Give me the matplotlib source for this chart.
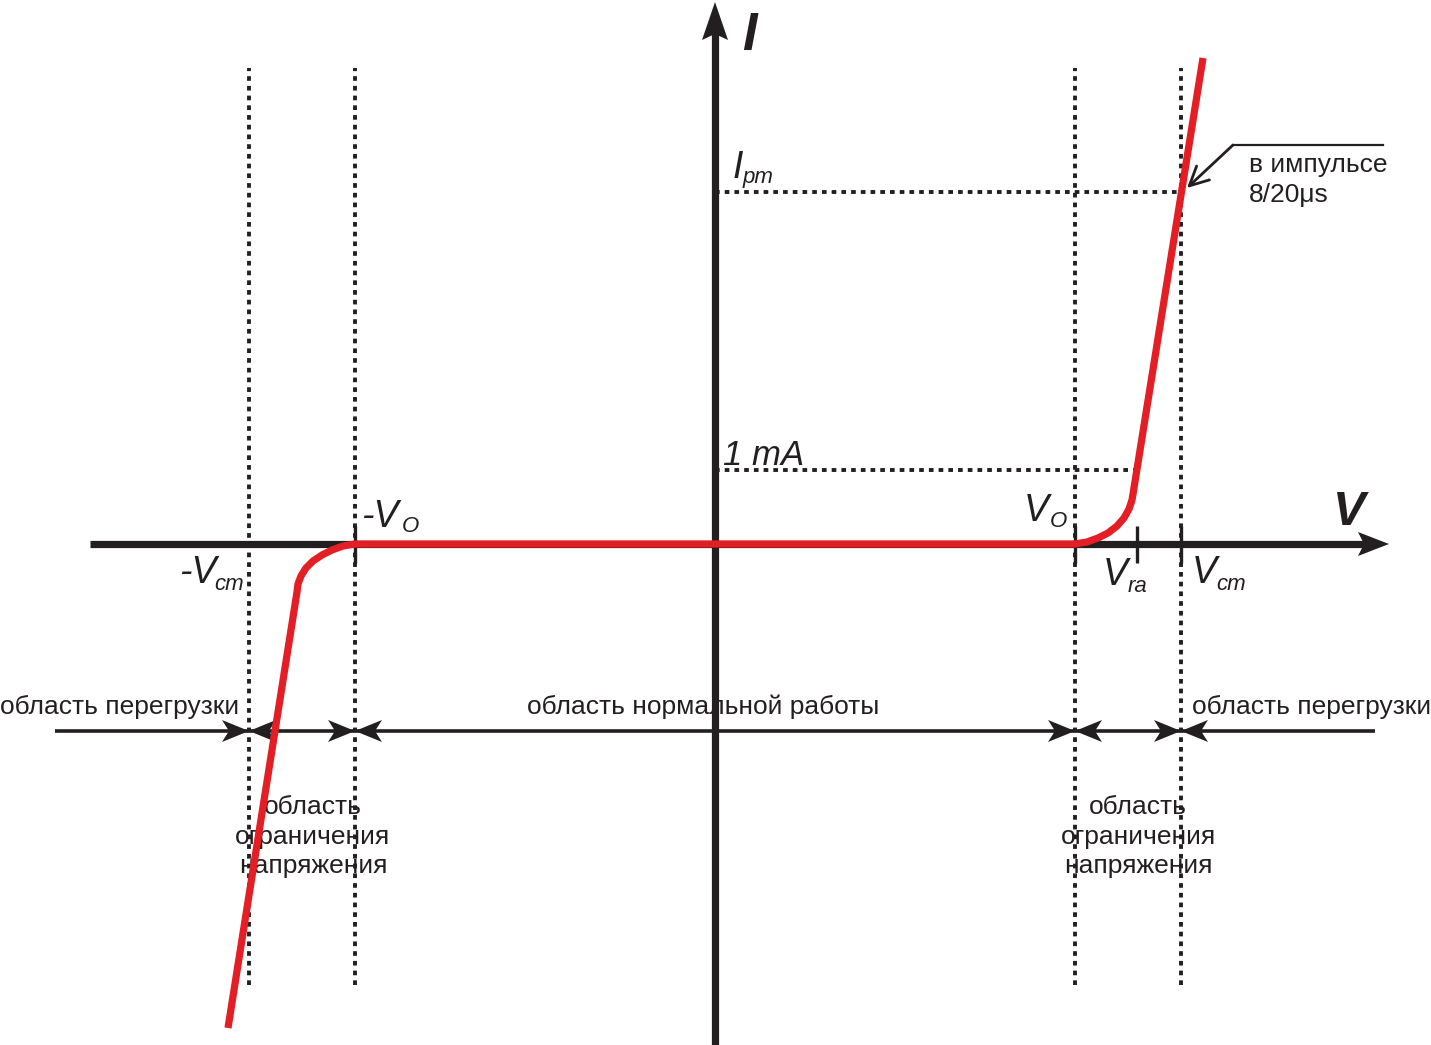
import numpy as np
import matplotlib
matplotlib.use('Agg')
import matplotlib.pyplot as plt
from matplotlib.patches import Polygon

plt.rcParams['font.family'] = ['Liberation Sans', 'DejaVu Sans']

# ---- schematic values (V, I in drawing units, origin at the axes crossing)
V0 = 360        # voltage limit start
Vra = 422       # voltage at 1 mA
Vcm = 466       # clamping voltage
I_1mA = 74
I_pm = 352

# red I-V curve
curve_v = [-487, -418, -417, -414, -409, -402, -393, -383, -372, -360,
           360, 372, 383, 393, 402, 409, 414, 417, 418, 488]
curve_i = [-484, -48, -40, -32, -24, -17, -11, -6, -2, 0,
           0, 2, 6, 11, 18, 26, 35, 44, 50, 486]

region_bounds = [-660, -Vcm, -V0, V0, Vcm, 660]
tick_marks = [-V0, V0, Vra, Vcm]

# labels: (main text, subscript, main x, main baseline, sub x, sub baseline)
labels = [('-V', 'O', -354, 17, -313, 12),
          ('-V', 'cm', -536, -39, -501, -46),
          ('V', 'O', 309, 23, 335, 17),
          ('V', 'ra', 388, -41, 413, -48),
          ('V', 'cm', 477, -39, 501, -46),
          ('I', 'pm', 18, 366, 28, 361)]

dark = '#231f20'
red = '#e31e24'

fig = plt.figure(figsize=(14.31, 10.45), dpi=100)
ax = fig.add_axes([0, 0, 1, 1])
ax.set_xlim(-715, 716)
ax.set_ylim(-501, 544)
ax.axis('off')


def head(tip, direction, length=27, half=11, notch=7, **kw):
    tx, ty = tip
    dx, dy = direction
    px, py = -dy, dx
    bx, by = tx - dx * length, ty - dy * length
    pts = [(tx, ty),
           (bx + px * half, by + py * half),
           (tx - dx * (length - notch), ty - dy * (length - notch)),
           (bx - px * half, by - py * half)]
    ax.add_patch(Polygon(pts, closed=True, facecolor=dark, edgecolor='none', **kw))


dots = (0, (1.2, 1.3))
# vertical dotted guides
for v in [-Vcm, -V0, V0, Vcm]:
    ax.plot([v, v], [-441, 476], color=dark, lw=2.8, linestyle=dots, zorder=1)
# horizontal dotted guides
ax.plot([0, Vcm], [I_pm, I_pm], color=dark, lw=2.8, linestyle=dots, zorder=1)
ax.plot([0, Vra], [I_1mA, I_1mA], color=dark, lw=2.8, linestyle=dots, zorder=1)

# main axes
ax.plot([-625, 655], [0, 0], color=dark, lw=5.2, solid_capstyle='butt', zorder=3)
head((674, 0), (1, 0), length=31, half=12, notch=6, zorder=3)
ax.plot([0, 0], [-501, 515], color=dark, lw=5.2, solid_capstyle='butt', zorder=3)
head((0, 542), (0, 1), length=38, half=13, notch=6, zorder=3)

for v in tick_marks:
    ax.plot([v, v], [-19, 18], color=dark, lw=2.4, solid_capstyle='butt', zorder=3)

# red characteristic
ax.plot(curve_v, curve_i, color=red, lw=5.2, solid_joinstyle='round',
        solid_capstyle='butt', zorder=5)

# region arrows
row = -187
for a, b in zip(region_bounds[:-1], region_bounds[1:]):
    ax.plot([a, b], [row, row], color=dark, lw=2.6, solid_capstyle='butt', zorder=2)
for v in region_bounds[1:-1]:
    head((v, row), (1, 0), zorder=2)
    head((v, row), (-1, 0), zorder=2)

# leader for pulse label
ax.plot([668, 518], [399, 399], color=dark, lw=1.6, zorder=4)
ax.annotate('', xy=(472, 356), xytext=(518, 399),
            arrowprops=dict(arrowstyle='->', color=dark, lw=2.0,
                            mutation_scale=34, shrinkA=0, shrinkB=0), zorder=4)

# axis names
ax.text(27, 494, 'I', fontsize=38, fontweight='bold', fontstyle='italic',
        color=dark, ha='left', va='baseline')
ax.text(618, 19, 'V', fontsize=35, fontweight='bold', fontstyle='italic',
        color=dark, ha='left', va='baseline')

for main, sub, mx, my, sx, sy in labels:
    ax.text(mx, my, main, fontsize=27, fontstyle='italic', color=dark,
            ha='left', va='baseline')
    ax.text(sx, sy, sub, fontsize=16, fontstyle='italic', color=dark,
            ha='left', va='baseline')
ax.text(8, 79, '1 mA', fontsize=25, fontstyle='italic', color=dark,
        ha='left', va='baseline')

txt = dict(fontsize=19, color=dark, va='baseline', zorder=1)
ax.text(-715, -170, 'область перегрузки', ha='left', **txt)
ax.text(-12, -170, 'область нормальной работы', ha='center', **txt)
ax.text(716, -170, 'область перегрузки', ha='right', **txt)
for cx in [-402, 423]:
    for y, s in zip([-270, -300, -329], ['область', 'ограничения', 'напряжения']):
        ax.text(cx, y, s, ha='center', **txt)
ax.text(534, 372, 'в импульсе', ha='left', **txt)
ax.text(534, 342, '8/20μs', ha='left', **txt)

fig.savefig('out.png', dpi=100)
